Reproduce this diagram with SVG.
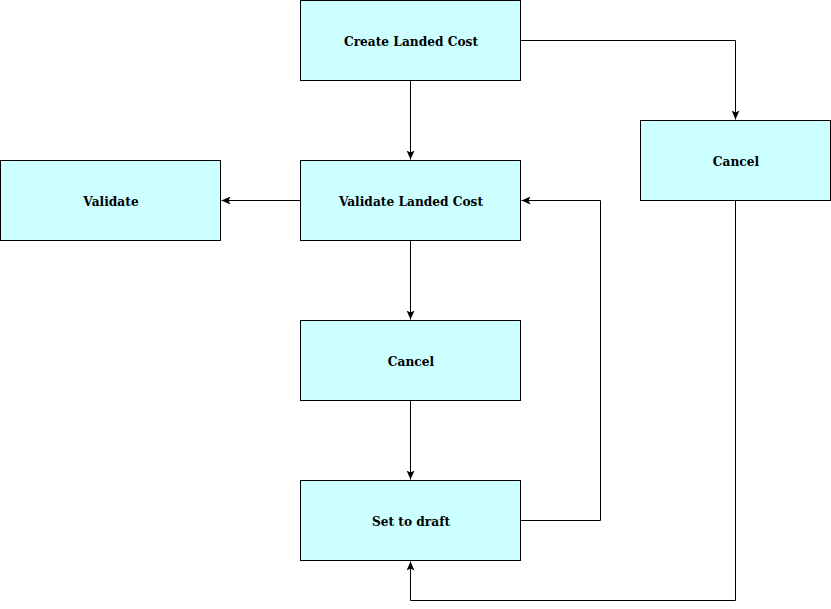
<svg xmlns="http://www.w3.org/2000/svg" width="831" height="609" viewBox="0 0 831 609">
<style>
.n rect{fill:#ccffff;stroke:#000;stroke-width:1}
.n text{font-family:"DejaVu Serif",serif;font-weight:bold;font-size:12.2px;text-anchor:middle;dominant-baseline:central;fill:#000}
.c path{fill:none;stroke:#000;stroke-width:1}
</style>
<defs>
<marker id="a" markerWidth="10" markerHeight="8" refX="9" refY="4" orient="auto" markerUnits="userSpaceOnUse">
<path d="M0,0 L9,4 L0,8 L2,4 Z" fill="#000"/>
</marker>
</defs>
<rect width="831" height="609" fill="#fff"/>
<g class="c">
<path d="M410.5,80.5 V159.5" marker-end="url(#a)"/>
<path d="M520.5,40.5 H735.5 V119.5" marker-end="url(#a)"/>
<path d="M300.5,200.5 H221.5" marker-end="url(#a)"/>
<path d="M410.5,240.5 V319.5" marker-end="url(#a)"/>
<path d="M410.5,400.5 V479.5" marker-end="url(#a)"/>
<path d="M520.5,520.5 H600.5 V200.5 H521.5" marker-end="url(#a)"/>
<path d="M735.5,200.5 V600.5 H410.5 V561.5" marker-end="url(#a)"/>
</g>
<g id="create" class="n"><rect x="300.5" y="0.5" width="220" height="80"/><text x="411" y="42">Create Landed Cost</text></g>
<g id="cancel1" class="n"><rect x="640.5" y="120.5" width="190" height="80"/><text x="736" y="162">Cancel</text></g>
<g id="validate" class="n"><rect x="0.5" y="160.5" width="220" height="80"/><text x="111" y="202">Validate</text></g>
<g id="validatelc" class="n"><rect x="300.5" y="160.5" width="220" height="80"/><text x="411" y="202">Validate Landed Cost</text></g>
<g id="cancel2" class="n"><rect x="300.5" y="320.5" width="220" height="80"/><text x="411" y="362">Cancel</text></g>
<g id="draft" class="n"><rect x="300.5" y="480.5" width="220" height="80"/><text x="411" y="522">Set to draft</text></g>
</svg>
